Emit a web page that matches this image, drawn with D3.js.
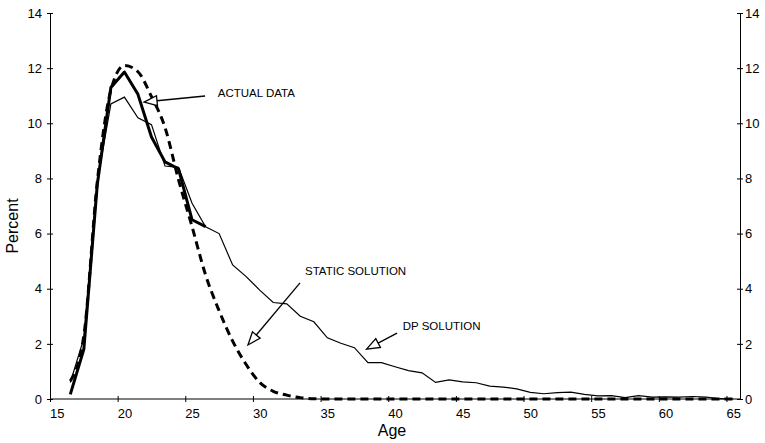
<!DOCTYPE html>
<html>
<head>
<meta charset="utf-8">
<script src="https://cdn.jsdelivr.net/npm/d3@7"></script>
<style>
  body { margin: 0; background: #fff; }
  svg { font-family: "Liberation Sans", Arial, sans-serif; }
  .axis path, .axis line { stroke: #000; }
  .axis text { font-size: 13px; fill: #000; }
</style>
</head>
<body>
<svg id="chart"></svg>
<script>
// Age categories
var ages = [16, 17, 18, 19, 20, 21, 22, 23, 24, 25, 26, 27, 28, 29, 30, 31, 32, 33, 34, 35,
  36, 37, 38, 39, 40, 41, 42, 43, 44, 45, 46, 47, 48, 49, 50, 51, 52, 53, 54, 55,
  56, 57, 58, 59, 60, 61, 62, 63, 64, 65];

// Actual data (thick line), ages 16-26
var actualData = [0.17, 1.8, 7.8, 11.3, 11.86, 11.05, 9.5, 8.6, 8.35, 6.5, 6.25];

// DP solution (thin line), ages 16-65
var dpSolution = [0.6, 2.2, 7.9, 10.7, 10.95, 10.2, 9.95, 8.45, 8.4, 7.1,
  6.25, 6.0, 4.86, 4.44, 3.95, 3.5, 3.45, 3.0, 2.8, 2.22,
  2.02, 1.86, 1.32, 1.32, 1.17, 1.03, 0.95, 0.6, 0.69, 0.62,
  0.59, 0.47, 0.43, 0.37, 0.24, 0.19, 0.23, 0.25, 0.17, 0.11,
  0.12, 0.05, 0.12, 0.07, 0.08, 0.07, 0.09, 0.07, 0.01, 0.0];

// Static solution (dashed line), ages 16-65
var staticSolution = [0.65, 2.3, 7.9, 11.2, 12.1, 11.87, 10.97, 9.85, 7.95, 6.25,
  4.5, 3.2, 2.1, 1.25, 0.6, 0.28, 0.14, 0.05, 0.01, 0,
  0, 0, 0, 0, 0, 0, 0, 0, 0, 0,
  0, 0, 0, 0, 0, 0, 0, 0, 0, 0,
  0, 0, 0, 0, 0, 0, 0, 0, 0, 0];

var xTicks = [15, 20, 25, 30, 35, 40, 45, 50, 55, 60, 65];
var yTicks = [0, 2, 4, 6, 8, 10, 12, 14];

// Annotations: text position and arrow tail / tip (age, percent)
var notes = [
  { label: "ACTUAL DATA", tx: 27.4, ty: 10.94, from: [26.46, 10.99], to: [21.95, 10.77] },
  { label: "STATIC SOLUTION", tx: 33.85, ty: 4.5, from: [33.48, 4.21], to: [29.63, 1.96] },
  { label: "DP SOLUTION", tx: 41.07, ty: 2.5, from: [40.65, 2.39], to: [38.4, 1.81] }
];

var svgWidth = 765;
var svgHeight = 443;

var svg = d3.select("#chart")
  .attr("width", svgWidth)
  .attr("height", svgHeight);

// category axis: each age occupies one slot, points sit in the middle of the slot
var x = d3.scaleLinear().domain([15, 66]).range([50, 740]);
var y = d3.scaleLinear().domain([0, 14]).range([399, 13]);
var half = x(15.5) - x(15);

// x axis
var xAxis = svg.append("g")
  .attr("class", "axis")
  .attr("transform", "translate(0," + y(0) + ")")
  .call(d3.axisBottom(x).tickValues(xTicks).tickSizeOuter(0).tickSize(3));
xAxis.select(".domain").attr("d", "M" + x(15) + ",0H" + x(66));
xAxis.selectAll(".tick line").attr("y1", -3).attr("y2", 3);
xAxis.selectAll(".tick text").attr("dx", half).attr("y", 10);

// left y axis
var yLeft = svg.append("g")
  .attr("class", "axis")
  .attr("transform", "translate(" + x(15) + ",0)")
  .call(d3.axisLeft(y).tickValues(yTicks).tickSizeOuter(0).tickSize(3).tickPadding(5));
yLeft.selectAll(".tick line").attr("x1", 3).attr("x2", -3);

// right y axis
var yRight = svg.append("g")
  .attr("class", "axis")
  .attr("transform", "translate(" + x(66) + ",0)")
  .call(d3.axisRight(y).tickValues(yTicks).tickSizeOuter(0).tickSize(3).tickPadding(2));
yRight.selectAll(".tick line").attr("x1", -3).attr("x2", 3);

// axis titles
svg.append("text")
  .attr("x", 392)
  .attr("y", 436)
  .attr("text-anchor", "middle")
  .style("font-size", "16px")
  .text("Age");

svg.append("text")
  .attr("transform", "translate(18,226) rotate(-90)")
  .attr("text-anchor", "middle")
  .style("font-size", "16px")
  .text("Percent");

// lines
function makeLine(curve) {
  return d3.line()
    .x(function (d) { return x(d.age + 0.5); })
    .y(function (d) { return y(d.value); })
    .curve(curve);
}

function toPoints(values) {
  return values.map(function (v, i) { return { age: ages[i], value: v }; });
}

svg.append("path")
  .datum(toPoints(staticSolution))
  .attr("fill", "none")
  .attr("stroke", "#000")
  .attr("stroke-width", 3)
  .attr("stroke-dasharray", "8,5")
  .attr("d", makeLine(d3.curveMonotoneX));

svg.append("path")
  .datum(toPoints(dpSolution))
  .attr("fill", "none")
  .attr("stroke", "#000")
  .attr("stroke-width", 1.2)
  .attr("d", makeLine(d3.curveLinear));

svg.append("path")
  .datum(toPoints(actualData))
  .attr("fill", "none")
  .attr("stroke", "#000")
  .attr("stroke-width", 3)
  .attr("stroke-linejoin", "round")
  .attr("d", makeLine(d3.curveLinear));

// annotations with hollow triangle arrowheads
notes.forEach(function (n) {
  var x0 = x(n.from[0]), y0 = y(n.from[1]);
  var x1 = x(n.to[0]), y1 = y(n.to[1]);
  var dx = x1 - x0, dy = y1 - y0;
  var len = Math.sqrt(dx * dx + dy * dy);
  var ux = dx / len, uy = dy / len;
  var headLen = 13, headW = 5;
  var bx = x1 - ux * headLen, by = y1 - uy * headLen;

  svg.append("line")
    .attr("x1", x0).attr("y1", y0)
    .attr("x2", bx).attr("y2", by)
    .attr("stroke", "#000")
    .attr("stroke-width", 1.3);

  svg.append("path")
    .attr("d", "M" + x1 + "," + y1 +
      "L" + (bx - uy * headW) + "," + (by + ux * headW) +
      "L" + (bx + uy * headW) + "," + (by - ux * headW) + "Z")
    .attr("fill", "#fff")
    .attr("stroke", "#000")
    .attr("stroke-width", 1.3);

  svg.append("text")
    .attr("x", x(n.tx))
    .attr("y", y(n.ty))
    .style("font-size", "11.5px")
    .text(n.label);
});
</script>
</body>
</html>
